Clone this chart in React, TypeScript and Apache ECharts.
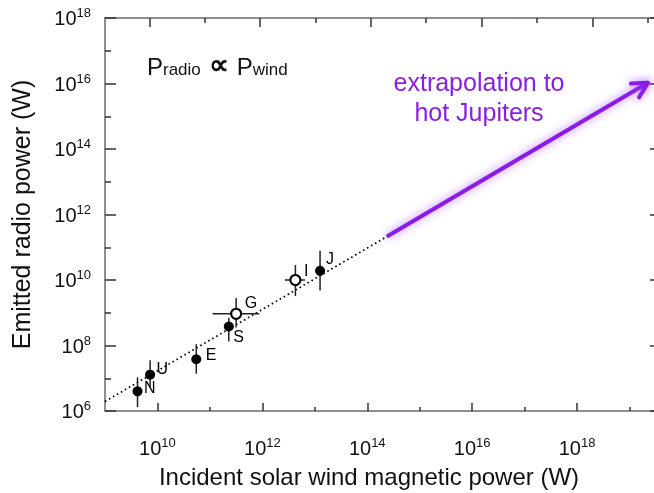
import React, { useEffect, useRef } from 'react';
import * as echarts from 'echarts';

// ---- data (log10 of power in W) ----
const planetNames = ['N', 'U', 'E', 'S', 'G', 'I', 'J'];
const windPowerLog = [9.62, 9.86, 10.74, 11.36, 11.5, 12.63, 13.1];
const radioPowerLog = [6.6, 7.11, 7.58, 8.58, 8.97, 10.0, 10.28];
const radioLowLog = [6.12, 6.7, 7.14, 8.12, 8.55, 9.51, 9.68];
const radioHighLog = [7.03, 7.55, 8.04, 8.85, 9.45, 10.46, 10.89];
const windLowLog: (number | null)[] = [null, null, null, null, 11.05, 12.43, null];
const windHighLog: (number | null)[] = [null, null, null, null, 11.94, 12.81, null];
const openMarker = [false, false, false, false, true, true, false];

const fitLineX = [9, 14.4];
const fitLineY = [6.29, 11.35];
const arrowX = [14.4, 19.35];
const arrowY = [11.35, 16.02];

const xMajorTicks = [10, 12, 14, 16, 18];
const xMinorTicks = [11, 13, 15, 17, 19];
const topMajorTicks = [0.8, 2.8, 4.8, 6.8, 8.8];
const topMinorTicks = [1.8, 3.8, 5.8, 7.8, 9.8];

// ---- style ----
const labelOffsets: [number, number][] = [
  [1.5, -4], [1.5, -6], [4.5, -5], [-0.5, 10], [2.5, -11], [2.5, -10], [1, -12],
];
const X_MIN = 9;
const X_MAX = 19.6;
const TOP_MAX = 10.04;
const Y_MIN = 6;
const Y_MAX = 18;
const FONT = '"Liberation Sans", Arial, Helvetica, sans-serif';
const AXIS_COLOR = '#6a6a6a';
const TICK_COLOR = '#333';
const PURPLE = '#8a1ee6';

const expRich = {
  b: { fontSize: 20, fontFamily: FONT, color: '#111', lineHeight: 24 },
  s: { fontSize: 13, fontFamily: FONT, color: '#111', lineHeight: 10, verticalAlign: 'top' as const },
};
const expFormatter = (v: number) => `{b|10}{s|${Math.round(v)}}`;

export default function App() {
  const ref = useRef<HTMLDivElement>(null);
  useEffect(() => {
    document.body.style.overflow = 'hidden';
    const chart = echarts.init(ref.current!, undefined, { renderer: 'svg' });
    const axisLineStyle = { color: AXIS_COLOR, width: 1.5 };
    const tickStyle = { color: TICK_COLOR, width: 1.5 };

    const scatterData = planetNames.map((n, i) => ({
      value: [windPowerLog[i], radioPowerLog[i]],
      name: n,
      itemStyle: openMarker[i]
        ? { color: '#fff', borderColor: '#000', borderWidth: 2, opacity: 1 }
        : { color: '#000', borderColor: '#000', borderWidth: 0, opacity: 1 },
      label: { offset: labelOffsets[i] },
    }));

    chart.setOption({
      animation: false,
      textStyle: { fontFamily: FONT },
      grid: { left: 104, right: 11, top: 18, bottom: 79 },
      xAxis: [
        {
          type: 'value', min: X_MIN, max: X_MAX, position: 'bottom',
          splitLine: { show: false },
          axisLine: { show: true, onZero: false, lineStyle: axisLineStyle },
          axisTick: { show: true, inside: true, length: 8, customValues: xMajorTicks, lineStyle: tickStyle },
          axisLabel: { customValues: xMajorTicks, formatter: expFormatter, rich: expRich, margin: 25 },
          name: 'Incident solar wind magnetic power (W)',
          nameLocation: 'middle', nameGap: 53,
          nameTextStyle: { fontSize: 24, color: '#111', fontFamily: FONT, padding: [0, 28, 0, 0] },
        },
        {
          type: 'value', min: X_MIN, max: X_MAX, position: 'bottom',
          splitLine: { show: false },
          axisLine: { show: false, onZero: false },
          axisTick: { show: true, inside: true, length: 4, customValues: xMinorTicks, lineStyle: tickStyle },
          axisLabel: { show: false },
        },
        {
          type: 'value', min: 0, max: TOP_MAX, position: 'top',
          splitLine: { show: false },
          axisLine: { show: true, onZero: false, lineStyle: axisLineStyle },
          axisTick: { show: true, inside: true, length: 9, customValues: topMajorTicks, lineStyle: tickStyle },
          axisLabel: { show: false },
        },
        {
          type: 'value', min: 0, max: TOP_MAX, position: 'top',
          splitLine: { show: false },
          axisLine: { show: false, onZero: false },
          axisTick: { show: true, inside: true, length: 5, customValues: topMinorTicks, lineStyle: tickStyle },
          axisLabel: { show: false },
        },
      ],
      yAxis: [
        {
          type: 'value', min: Y_MIN, max: Y_MAX, interval: 2, position: 'left',
          splitLine: { show: false },
          axisLine: { show: true, onZero: false, lineStyle: axisLineStyle },
          axisTick: { show: true, inside: true, length: 11, lineStyle: tickStyle },
          minorTick: { show: true, splitNumber: 2, length: 6, lineStyle: tickStyle },
          axisLabel: { formatter: expFormatter, rich: expRich, margin: 14 },
          name: 'Emitted radio power (W)',
          nameLocation: 'middle', nameGap: 72, nameRotate: 90,
          nameTextStyle: { fontSize: 25, color: '#111', fontFamily: FONT },
        },
        {
          type: 'value', min: Y_MIN, max: Y_MAX, interval: 2, position: 'right',
          splitLine: { show: false },
          axisLine: { show: true, onZero: false, lineStyle: axisLineStyle },
          axisTick: { show: true, inside: true, length: 11, lineStyle: tickStyle },
          minorTick: { show: true, splitNumber: 2, length: 6, lineStyle: tickStyle },
          axisLabel: { show: false },
        },
      ],
      series: [
        {
          type: 'line',
          data: fitLineX.map((x, i) => [x, fitLineY[i]]),
          showSymbol: false,
          symbol: 'none',
          lineStyle: { color: '#000', width: 1.7, type: [1.6, 3] },
          z: 1,
          silent: true,
        },
        {
          type: 'custom',
          data: planetNames.map((_, i) => [windPowerLog[i], radioPowerLog[i]]),
          z: 2,
          silent: true,
          renderItem: (params: any, api: any) => {
            const i = params.dataIndex;
            const x = windPowerLog[i];
            const y = radioPowerLog[i];
            const top = api.coord([x, radioHighLog[i]]);
            const bot = api.coord([x, radioLowLog[i]]);
            const st = { stroke: '#222', lineWidth: 1.5 };
            const children: any[] = [
              { type: 'line', shape: { x1: top[0], y1: top[1], x2: bot[0], y2: bot[1] }, style: st },
            ];
            const lo = windLowLog[i];
            const hi = windHighLog[i];
            if (lo != null && hi != null) {
              const l = api.coord([lo, y]);
              const r = api.coord([hi, y]);
              children.push({ type: 'line', shape: { x1: l[0], y1: l[1], x2: r[0], y2: r[1] }, style: st });
            }
            return { type: 'group', children };
          },
        },
        {
          type: 'scatter',
          data: scatterData,
          symbolSize: 10,
          z: 3,
          itemStyle: { opacity: 1 },
          label: {
            show: true,
            formatter: '{b}',
            position: 'right',
            distance: 0,
            fontSize: 16,
            color: '#000',
            fontFamily: FONT,
          },
        },
        {
          type: 'custom',
          data: [[arrowX[0], arrowY[0], arrowX[1], arrowY[1]]],
          z: 4,
          silent: true,
          renderItem: (params: any, api: any) => {
            const p0 = api.coord([api.value(0), api.value(1)]);
            const p1 = api.coord([api.value(2), api.value(3)]);
            const dx = p1[0] - p0[0];
            const dy = p1[1] - p0[1];
            const len = Math.sqrt(dx * dx + dy * dy);
            const ux = dx / len, uy = dy / len;
            const px = -uy, py = ux;
            const hl = 15, hw = 8;
            const b = [p1[0] - ux * hl, p1[1] - uy * hl];
            const style = {
              stroke: PURPLE, lineWidth: 4, fill: 'none', lineCap: 'round', lineJoin: 'round',
              shadowBlur: 8, shadowColor: 'rgba(150, 60, 255, 0.7)',
            };
            return {
              type: 'group',
              children: [
                { type: 'line', shape: { x1: p0[0], y1: p0[1], x2: p1[0], y2: p1[1] }, style },
                {
                  type: 'polyline',
                  shape: { points: [[b[0] + px * hw, b[1] + py * hw], [p1[0], p1[1]], [b[0] - px * hw, b[1] - py * hw]] },
                  style,
                },
              ],
            };
          },
        },
      ],
      graphic: [
        {
          type: 'text',
          left: 147,
          top: 50,
          style: {
            text: '{P|P}{s|radio}{o|∝}{P|P}{s|wind}',
            rich: {
              P: { fontSize: 24, fontFamily: FONT, fill: '#111', lineHeight: 28, verticalAlign: 'bottom' },
              s: { fontSize: 17, fontFamily: FONT, fill: '#111', lineHeight: 22, verticalAlign: 'bottom' },
              o: { fontSize: 28, fontFamily: FONT, fill: '#111', fontWeight: 'bold', lineHeight: 28, verticalAlign: 'bottom', padding: [0, 8, 0, 8] },
            },
          },
        },
        {
          type: 'text',
          x: 479,
          y: 69,
          style: { text: 'extrapolation to', fontSize: 25, fontFamily: FONT, fill: PURPLE, align: 'center', textAlign: 'center' },
        },
        {
          type: 'text',
          x: 479,
          y: 99,
          style: { text: 'hot Jupiters', fontSize: 25, fontFamily: FONT, fill: PURPLE, align: 'center', textAlign: 'center' },
        },
      ],
    });
    return () => chart.dispose();
  }, []);
  return <div ref={ref} style={{ position: 'fixed', left: 0, top: 0, width: 672, height: 493 }} />;
}
